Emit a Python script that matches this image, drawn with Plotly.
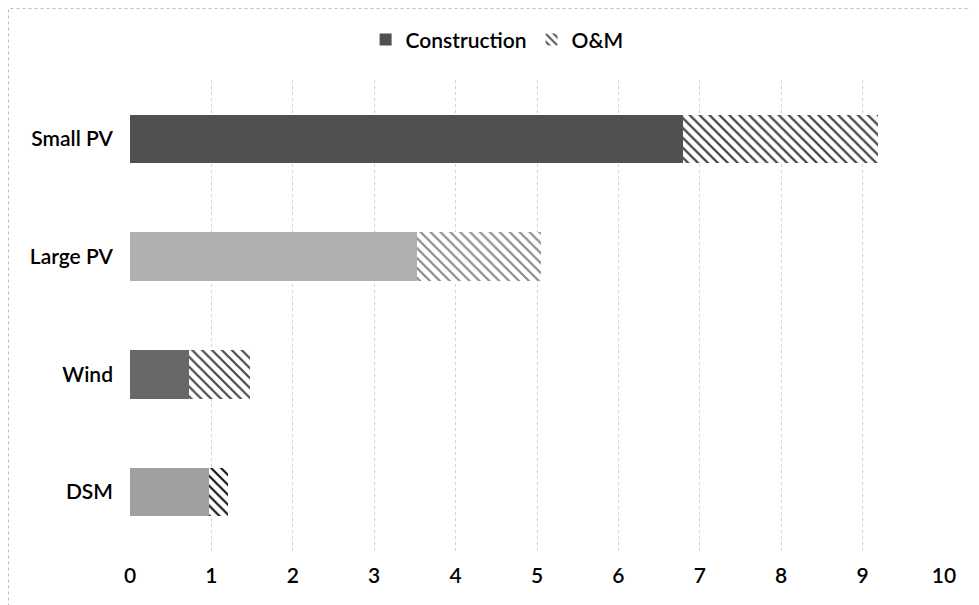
import plotly.graph_objects as go

categories = ["Small PV", "Large PV", "Wind", "DSM"]
construction = [6.79, 3.53, 0.72, 0.97]
om = [2.40, 1.52, 0.75, 0.24]
x_ticks = [0, 1, 2, 3, 4, 5, 6, 7, 8, 9, 10]

construction_colors = ["#505050", "#b0b0b0", "#686868", "#a0a0a0"]
om_line_colors = ["#3c3c3c", "#8c8c8c", "#4a4a4a", "#1a1a1a"]

FONT = "Lato, 'Open Sans', sans-serif"

W, H = 971, 597
ML, MR, MT, MB = 122, 35, 72, 54
PW, PH = W - ML - MR, H - MT - MB

fig = go.Figure()
fig.add_trace(go.Bar(
    y=categories, x=construction, orientation="h", name="Construction",
    marker=dict(color=construction_colors, line=dict(width=0)),
))
fig.add_trace(go.Bar(
    y=categories, x=om, orientation="h", name="O&M",
    marker=dict(
        color="white",
        line=dict(width=0),
        pattern=dict(shape="\\", fgcolor=om_line_colors, bgcolor="white",
                     size=7, solidity=0.32, fillmode="replace", fgopacity=1),
    ),
))

tf = dict(family=FONT, size=21, color="black", weight=600)

fig.update_layout(
    width=W, height=H,
    barmode="stack", bargap=0.59,
    paper_bgcolor="white", plot_bgcolor="white",
    margin=dict(l=ML, r=MR, t=MT, b=MB, autoexpand=False),
    font=tf,
    showlegend=True,
    legend=dict(orientation="h", x=0.451, xanchor="center", y=1.085, yanchor="middle",
                font=tf, itemwidth=30, traceorder="normal"),
    xaxis=dict(range=[0, 10], tickvals=x_ticks, ticktext=[str(t) for t in x_ticks],
               showgrid=True, gridcolor="#d2d2d2", griddash="dot", gridwidth=1,
               zeroline=False, showline=False, ticks="", ticklabelstandoff=10,
               tickfont=tf),
    yaxis=dict(autorange="reversed", showgrid=False, showline=False, ticks="",
               ticklabelstandoff=16, tickfont=tf),
    shapes=[dict(type="rect", xref="paper", yref="paper",
                 x0=(-ML + 0.5) / PW, x1=(W - ML - 3) / PW,
                 y0=-MB / PH - 0.05, y1=1 + (MT - 0.5) / PH,
                 line=dict(color="#bdbdbd", width=1, dash="dot"))],
)

fig.write_html("out.html")
